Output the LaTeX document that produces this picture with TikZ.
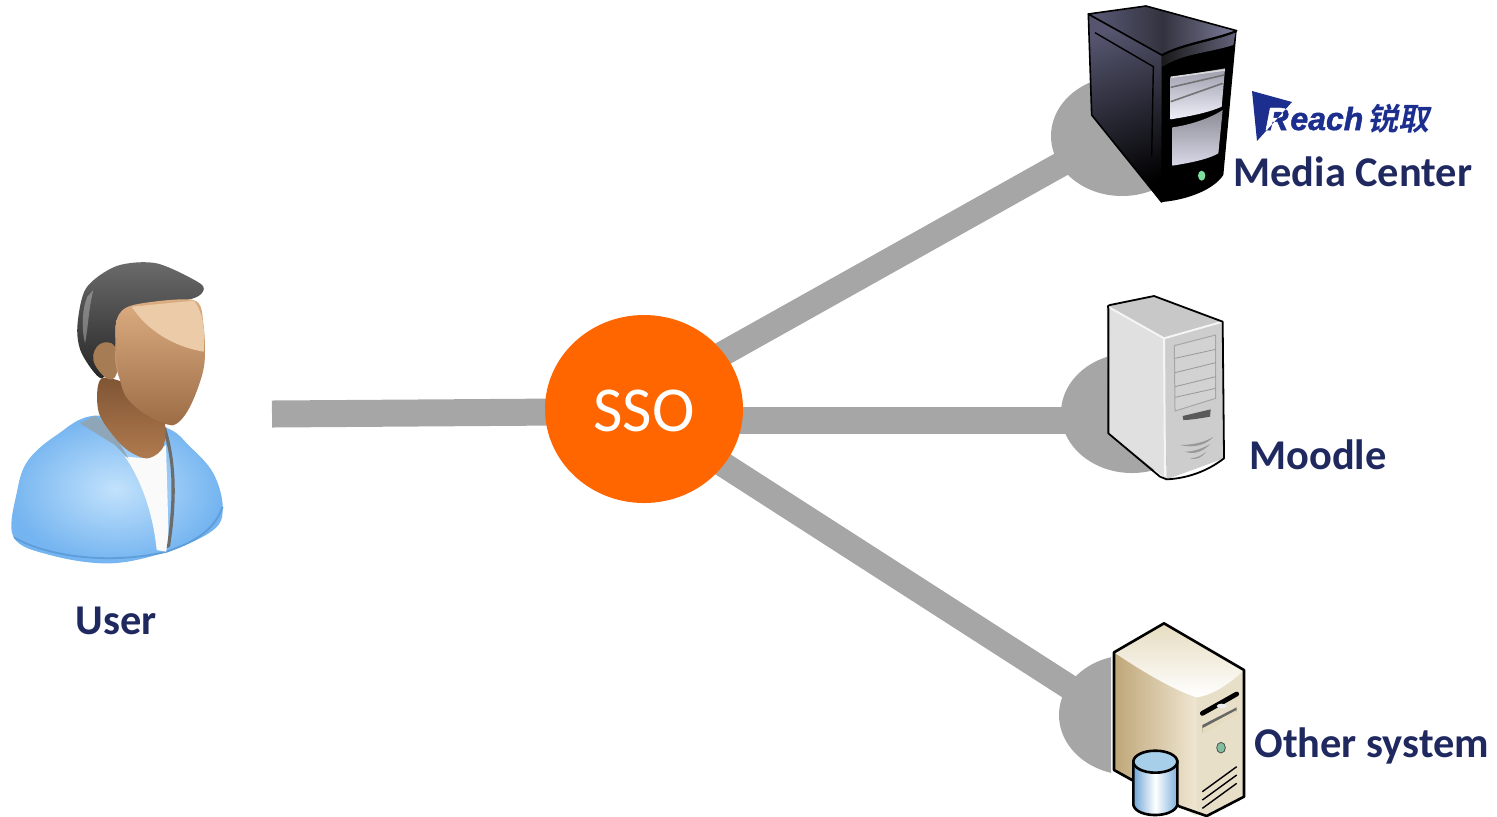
\documentclass[tikz,border=0pt]{standalone}
\usepackage{fontspec}
\setmainfont{Carlito}
\newfontfamily\cjkbold[FakeSlant=0.2]{Noto Sans CJK SC Bold}
\newfontfamily\logofont[BoldItalicFeatures={FakeBold=1.5}]{Liberation Sans}
\usetikzlibrary{backgrounds,shapes.geometric}
\definecolor{navy}{HTML}{20295F}
\definecolor{link}{HTML}{A6A6A6}
\definecolor{hub}{HTML}{FF6600}
\definecolor{logoblue}{HTML}{1C2F8F}
\definecolor{bodyL}{HTML}{74B4F0}
\definecolor{bodyR}{HTML}{8CC4F3}
\definecolor{bodyH}{HTML}{C2E2FC}
\definecolor{bodyRim}{HTML}{5C9DDA}
\definecolor{seam}{HTML}{8FA6B8}
\definecolor{neckT}{HTML}{7E5434}
\definecolor{neckB}{HTML}{B07A4E}
\definecolor{earC}{HTML}{A67C55}
\definecolor{faceT}{HTML}{DDAE82}
\definecolor{faceB}{HTML}{9C6C46}
\definecolor{faceH}{HTML}{EBCBA8}
\definecolor{faceRim}{HTML}{C09570}
\definecolor{darkSide}{HTML}{55556F}
\definecolor{darkTopL}{HTML}{5A5A78}
\definecolor{darkTopR}{HTML}{7C7C9A}
\definecolor{darkTopM}{HTML}{33333F}
\definecolor{bandR}{HTML}{62627A}
\definecolor{bayT}{HTML}{9C9CAC}
\definecolor{bayB}{HTML}{F0F0FA}
\definecolor{bayLT}{HTML}{8C8C96}
\definecolor{bayLB}{HTML}{D8D8E8}
\definecolor{ledA}{HTML}{7FDF9F}
\definecolor{moodL}{HTML}{E0E0E0}
\definecolor{moodF}{HTML}{CDCDCD}
\definecolor{moodT}{HTML}{C8C8C8}
\definecolor{moodP}{HTML}{D2D2D2}
\definecolor{otherF}{HTML}{E8DFC8}
\definecolor{otherLL}{HTML}{BFA678}
\definecolor{otherLR}{HTML}{EFE6D2}
\definecolor{otherT}{HTML}{E6DCC0}
\definecolor{ledB}{HTML}{80C0A0}
\definecolor{cylL}{HTML}{6FA6D6}
\definecolor{cylR}{HTML}{7FB0DC}
\definecolor{cylT}{HTML}{A8CFEA}
\tikzset{
  px/.style={x=0.5pt,y=-0.5pt},
  zoomed/.style 2 args={shift={(#1,#2)},x=0.16667pt,y=-0.16667pt},
  disc/.style={ellipse,fill=link,inner sep=0pt,minimum width=71pt,minimum height=60pt},
  hubnode/.style={ellipse,fill=hub,inner sep=0pt,minimum width=99pt,minimum height=94pt},
  hubtext/.style={text=white,inner sep=0pt,font=\fontsize{32}{32}\selectfont},
  lbl/.style={text=navy,font=\fontsize{21.2}{25}\selectfont\bfseries,inner sep=0pt},
  linkline/.style={draw=link,line width=12.5pt,shorten >=-6pt,shorten <=-6pt},
  logotext/.style={inner sep=0pt,anchor=base west,font=\logofont\fontsize{16}{16}\selectfont\bfseries\itshape},
  edge/.style={draw=black,line width=0.8pt,line join=round}
}
\begin{document}
\begin{tikzpicture}[px]
\useasboundingbox (0,0) rectangle (1497,816);

% hub and discs
\node[hubnode] (sso) at (644,409) {};
\node[hubtext] (ssotext) at (644,411) {SSO};
\node[disc] (dmedia) at (1122,136) {};
\node[disc] (dmoodle) at (1132,413) {};
\begin{scope}
  \clip (1000,600) rectangle (1111,800);
  \node[disc] (dother) at (1130,715) {};
\end{scope}
\coordinate (userend) at (272,414);
\coordinate (ssoleft) at (560,412);
\coordinate (moodleend) at (1070,420);
\coordinate (ssoright) at (730,420);

\begin{pgfonlayer}{background}
  \draw[draw=link,line width=13.5pt] (userend) -- (ssoleft);
  \draw[linkline] (sso.35) -- (dmedia.205);
  \draw[draw=link,line width=13.5pt] (ssoright) -- (moodleend);
  \draw[linkline] (sso.-35) -- (dother.155);
\end{pgfonlayer}

% ---------- user icon ----------
\begin{scope}[zoomed={0}{250}]
  % body
  \shade[inner color=bodyH,outer color=bodyL]
    plot[smooth cycle,tension=0.6] coordinates {(285,497)(170,555)(85,630)(52,720)(40,860)(150,915)(330,940)(500,905)(640,840)(668,770)(640,670)(570,590)(490,530)};
  \draw[bodyRim,line width=0.9pt] (42,862) .. controls (140,920) and (330,945) .. (500,905) .. controls (570,880) and (640,850) .. (668,770);
  % white shirt
  \fill[white!96!gray] (375,620) -- (440,625) -- (498,585) -- (506,870) -- (498,905) -- (470,900) .. controls (460,800) and (430,700) .. (375,620) -- cycle;
  % jacket dark seams
  \fill[gray!85!black] (490,545) .. controls (515,620) and (525,720) .. (500,895) -- (510,890) .. controls (535,730) and (525,620) .. (497,530) -- cycle;
  \fill[seam] (285,497) -- (240,520) -- (345,585) -- (385,625) -- (330,530) -- cycle;
  % neck
  \shade[top color=neckT,bottom color=neckB]
    plot[smooth cycle,tension=0.5] coordinates {(305,385)(297,490)(370,590)(440,625)(490,590)(490,500)(420,420)};
  % hair
  \shade[top color=black!58,bottom color=black!85]
    plot[smooth cycle,tension=0.5] coordinates {(232,230)(258,115)(350,48)(470,40)(600,100)(605,130)(560,150)(400,170)(350,210)(345,300)(305,385)(245,310)};
  \fill[white,opacity=0.3] (262,140) .. controls (245,180) and (245,240) .. (255,280) .. controls (265,230) and (265,180) .. (280,120) -- cycle;
  % ear
  \fill[earC] plot[smooth cycle,tension=0.7] coordinates {(300,282)(345,290)(350,370)(320,385)(280,330)};
  % face: lighter rim only along the jaw
  \fill[faceRim] (345,300) .. controls (340,380) and (380,470) .. (520,527) -- (480,440) -- cycle;
  \shade[top color=faceT,bottom color=faceB]
    plot[smooth cycle,tension=0.5] coordinates {(350,210)(400,165)(580,150)(610,220)(612,350)(570,470)(520,525)(440,495)(375,435)(350,330)};
  \fill[faceH] (395,170) .. controls (440,240) and (520,290) .. (611,305) .. controls (616,240) and (610,190) .. (582,152) -- cycle;
\end{scope}
\node[lbl] (userlbl) at (116,621) {User};

% ---------- media center server ----------
\begin{scope}[zoomed={1040}{0}]
  % left face
  \shade[edge,top color=darkSide,bottom color=black,shading angle=20]
    (145,42) -- (370,165) -- (365,606) -- (155,345) -- cycle;
  \draw[black,line width=0.7pt] (165,98) -- (340,200) -- (335,470);
  % top
  \shade[edge,left color=darkTopL,right color=darkTopR,middle color=darkTopM]
    (145,42) -- (318,18) -- (590,92) .. controls (520,120) and (430,130) .. (365,165) -- cycle;
  % front
  \fill[black] (365,165) .. controls (430,130) and (520,120) .. (590,92) -- (550,525) .. controls (520,570) and (440,600) .. (365,606) -- cycle;
  \shade[left color=black!90,right color=bandR] (368,168) .. controls (430,135) and (520,125) .. (586,98) -- (580,135) .. controls (500,160) and (430,160) .. (368,200) -- cycle;
  % bays
  \shade[top color=bayT,bottom color=bayB]
    (392,232) -- (555,205) -- (545,320) .. controls (500,340) and (440,350) .. (392,358) -- cycle;
  \draw[white!85!black,line width=0.8pt] (392,232) -- (555,210);
  \draw[black!55,line width=0.8pt] (392,262) -- (552,225);
  \draw[black!55,line width=0.8pt] (392,305) -- (548,250);
  \shade[top color=bayLT,bottom color=bayLB]
    (397,382) .. controls (450,375) and (510,355) .. (548,330) -- (535,460) .. controls (500,480) and (440,490) .. (397,497) -- cycle;
  \fill[ledA] (485,527) circle[x radius=11,y radius=15];
\end{scope}
% logo
\node[logotext,text=logoblue] (logorb) at (1265,130) {R};
\fill[logoblue] (1252,91) -- (1292,102) -- (1257,141) -- cycle;
\begin{scope}
  \clip (1252,91) -- (1292,102) -- (1257,141) -- cycle;
  \node[logotext,text=white] (logor) at (1265,130) {R};
\end{scope}
\node[logotext,text=logoblue] (logoe) at (1290,130) {each};
\node[inner sep=0pt,anchor=base west,text=logoblue,font=\cjkbold\fontsize{15.5}{15.5}\selectfont] (logoc) at (1367,130) {锐取};
\node[lbl,anchor=west] (medialbl) at (1233,172) {Media Center};

% ---------- moodle server ----------
\begin{scope}[zoomed={1040}{280}]
  \fill[moodL] (200,78) -- (372,175) -- (380,598) -- (205,460) -- cycle;
  \fill[moodF] (372,175) -- (548,125) -- (552,535) -- (380,598) -- cycle;
  \fill[moodT] (200,78) -- (342,48) -- (548,125) -- (372,175) -- cycle;
  \draw[white!92!gray,line width=1pt] (200,78) -- (372,175) -- (548,125);
  \draw[white!92!gray,line width=1pt] (372,175) -- (375,590);
  \fill[moodP] (403,197) -- (527,165) -- (527,355) -- (405,393) -- cycle;
  \draw[gray!70!white,line width=0.5pt] (403,197) -- (527,165) -- (527,355) -- (405,393) -- cycle;
  \foreach \a/\b in {235/208,278/248,320/290,352/325}
    \draw[black!40,line width=0.4pt] (405,\a) -- (527,\b);
  \fill[black!65] (428,408) -- (512,388) -- (510,410) .. controls (480,415) and (450,420) .. (430,420) -- cycle;
  \fill[black!40] (420,495) .. controls (460,495) and (500,485) .. (520,470) .. controls (500,495) and (460,505) .. (420,495) -- cycle;
  \fill[black!40] (435,515) .. controls (460,515) and (490,505) .. (510,492) .. controls (490,515) and (460,525) .. (435,515) -- cycle;
  \fill[black!40] (450,535) .. controls (465,535) and (485,528) .. (498,515) .. controls (485,535) and (465,540) .. (450,535) -- cycle;
  \draw[black,line width=0.9pt,line join=round] (205,85) .. controls (205,80) and (200,78) .. (210,75) -- (342,48) -- (548,125) -- (552,535) .. controls (500,575) and (440,595) .. (380,598) -- (360,590) -- (205,460) -- cycle;
\end{scope}
\node[lbl] (moodlelbl) at (1318,455) {Moodle};

% ---------- other system server ----------
\begin{scope}[zoomed={1040}{610}]
  \fill[otherF] (222,127) -- (372,40) -- (612,180) -- (612,560) -- (500,618) -- (222,480) -- cycle;
  \shade[left color=otherLL,right color=otherLR] (222,127) -- (470,262) -- (470,618) -- (222,480) -- cycle;
  \shade[top color=otherT,bottom color=white]
    (222,127) -- (372,40) -- (612,180) .. controls (570,220) and (520,255) .. (470,262) .. controls (400,240) and (300,180) .. (222,127) -- cycle;
  \draw[black,line width=1.3pt,line join=round] (222,127) -- (372,40) -- (612,180) -- (612,560) -- (500,618) -- (420,590) -- (222,480) -- cycle;
  % slot
  \draw[black,line width=2.4pt,line cap=round] (487,310) -- (590,252);
  \fill[white!85!gray] (545,288) ellipse[x radius=15,y radius=7];
  \fill[black!60] (487,345) -- (590,292) -- (590,305) -- (487,368) -- cycle;
  \fill[otherT] (487,355) -- (590,300) -- (590,312) -- (487,372) -- cycle;
  \filldraw[fill=ledB,draw=black!70,line width=0.4pt] (543,413) ellipse[x radius=13,y radius=16];
  \foreach \d in {0,25,50}
    \draw[black,line width=0.7pt] (487,{545+\d}) -- (590,{470+\d});
  % cylinder
  \shade[left color=cylL,right color=cylR,middle color=white,draw=black,line width=1.3pt]
    (280,455) -- (280,585) .. controls (290,625) and (400,625) .. (412,585) -- (412,455) -- cycle;
  \filldraw[fill=cylT,draw=black,line width=1.3pt] (346,455) ellipse[x radius=66,y radius=33];
\end{scope}
\node[lbl,anchor=west] (otherlbl) at (1254,746) {Other system};
\end{tikzpicture}
\end{document}
